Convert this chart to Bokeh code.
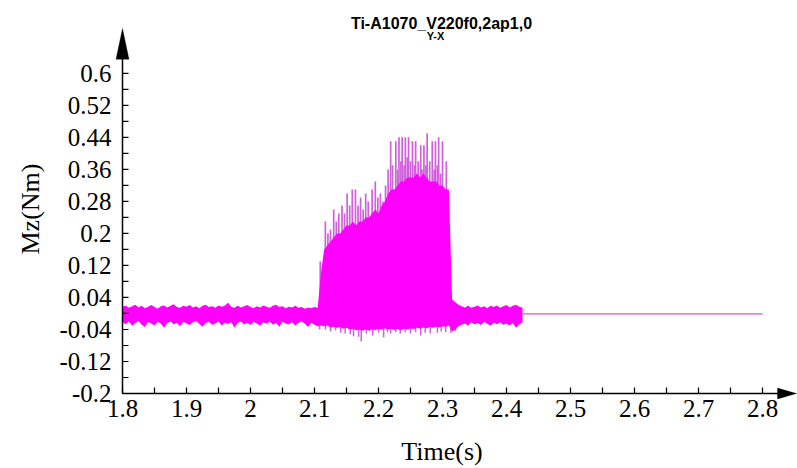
import math
from bokeh.plotting import figure
from bokeh.models import FixedTicker, Label, PolyAnnotation, Range1d, Title
from bokeh.embed import file_html
from bokeh.resources import INLINE

# ---- measured torque signal Mz (Nm) vs time (s) ----
# noise band sampled every 5 ms: upper and lower edge of the signal
t_band = [
    1.800, 1.805, 1.810, 1.815, 1.820, 1.825, 1.830, 1.835, 1.840, 1.845,
    1.850, 1.855, 1.860, 1.865, 1.870, 1.875, 1.880, 1.885, 1.890, 1.895,
    1.900, 1.905, 1.910, 1.915, 1.920, 1.925, 1.930, 1.935, 1.940, 1.945,
    1.950, 1.955, 1.960, 1.965, 1.970, 1.975, 1.980, 1.985, 1.990, 1.995,
    2.000, 2.005, 2.010, 2.015, 2.020, 2.025, 2.030, 2.035, 2.040, 2.045,
    2.050, 2.055, 2.060, 2.065, 2.070, 2.075, 2.080, 2.085, 2.090, 2.095,
    2.100, 2.105, 2.110, 2.115, 2.120, 2.125, 2.130, 2.135, 2.140, 2.145,
    2.150, 2.155, 2.160, 2.165, 2.170, 2.175, 2.180, 2.185, 2.190, 2.195,
    2.200, 2.205, 2.210, 2.215, 2.220, 2.225, 2.230, 2.235, 2.240, 2.245,
    2.250, 2.255, 2.260, 2.265, 2.270, 2.275, 2.280, 2.285, 2.290, 2.295,
    2.300, 2.305, 2.310, 2.315, 2.320, 2.325, 2.330, 2.335, 2.340, 2.345,
    2.350, 2.355, 2.360, 2.365, 2.370, 2.375, 2.380, 2.385, 2.390, 2.395,
    2.400, 2.405, 2.410, 2.415, 2.420, 2.425,
]
band_hi = [
    0.016, 0.020, 0.014, 0.018, 0.022, 0.015, 0.019, 0.013, 0.017, 0.021,
    0.016, 0.012, 0.018, 0.020, 0.015, 0.019, 0.023, 0.016, 0.014, 0.019,
    0.017, 0.021, 0.015, 0.018, 0.013, 0.019, 0.022, 0.016, 0.018, 0.014,
    0.020, 0.017, 0.019, 0.027, 0.016, 0.014, 0.019, 0.015, 0.018, 0.021,
    0.016, 0.013, 0.018, 0.015, 0.020, 0.017, 0.014, 0.019, 0.022, 0.016,
    0.018, 0.013, 0.017, 0.015, 0.019, 0.014, 0.016, 0.012, 0.015, 0.013,
    0.016, 0.014, 0.100, 0.160, 0.170, 0.180, 0.190, 0.200, 0.200, 0.210,
    0.220, 0.220, 0.230, 0.220, 0.230, 0.230, 0.240, 0.240, 0.250, 0.260,
    0.250, 0.270, 0.280, 0.300, 0.310, 0.310, 0.320, 0.330, 0.330, 0.340,
    0.340, 0.340, 0.350, 0.340, 0.350, 0.340, 0.330, 0.330, 0.330, 0.320,
    0.320, 0.310, 0.310, 0.035, 0.028, 0.022, 0.018, 0.015, 0.019, 0.014,
    0.017, 0.020, 0.015, 0.018, 0.013, 0.019, 0.016, 0.020, 0.014, 0.018,
    0.021, 0.015, 0.019, 0.022, 0.017, 0.014,
]
band_lo = [
    -0.022, -0.027, -0.020, -0.031, -0.024, -0.019, -0.028, -0.034, -0.022, -0.025,
    -0.030, -0.021, -0.026, -0.036, -0.023, -0.020, -0.027, -0.024, -0.032, -0.021,
    -0.025, -0.029, -0.022, -0.019, -0.026, -0.033, -0.024, -0.021, -0.028, -0.025,
    -0.020, -0.030, -0.023, -0.026, -0.022, -0.035, -0.024, -0.020, -0.027, -0.023,
    -0.029, -0.021, -0.025, -0.031, -0.022, -0.026, -0.020, -0.028, -0.024, -0.033,
    -0.021, -0.025, -0.027, -0.022, -0.030, -0.024, -0.020, -0.026, -0.034, -0.023,
    -0.028, -0.032, -0.030, -0.032, -0.030, -0.035, -0.033, -0.036, -0.034, -0.038,
    -0.036, -0.040, -0.038, -0.042, -0.040, -0.043, -0.040, -0.042, -0.039, -0.041,
    -0.038, -0.040, -0.037, -0.040, -0.038, -0.041, -0.039, -0.042, -0.038, -0.040,
    -0.037, -0.039, -0.036, -0.038, -0.035, -0.037, -0.034, -0.036, -0.033, -0.035,
    -0.032, -0.034, -0.030, -0.045, -0.040, -0.032, -0.028, -0.025, -0.030, -0.022,
    -0.027, -0.024, -0.029, -0.021, -0.026, -0.031, -0.023, -0.027, -0.022, -0.028,
    -0.025, -0.030, -0.024, -0.036, -0.027, -0.023,
]

# positive peaks during the cutting pass
spike_t = [
    2.109, 2.117, 2.121, 2.125, 2.130, 2.134, 2.138, 2.143, 2.147, 2.151,
    2.155, 2.159, 2.164, 2.168, 2.172, 2.176, 2.180, 2.184, 2.190, 2.195,
    2.199, 2.203, 2.207, 2.211, 2.215, 2.219, 2.222, 2.227, 2.230, 2.232,
    2.235, 2.237, 2.240, 2.242, 2.245, 2.247, 2.250, 2.253, 2.256, 2.258,
    2.262, 2.266, 2.268, 2.271, 2.274, 2.276, 2.280, 2.284, 2.287, 2.289,
    2.292, 2.294, 2.297, 2.300, 2.306,
]
spike_top = [
    0.13, 0.23, 0.20, 0.21, 0.26, 0.23, 0.25, 0.27, 0.25, 0.30,
    0.27, 0.31, 0.31, 0.27, 0.29, 0.26, 0.30, 0.28, 0.31, 0.33,
    0.29, 0.30, 0.28, 0.32, 0.36, 0.43, 0.37, 0.43, 0.36, 0.44,
    0.38, 0.44, 0.37, 0.44, 0.39, 0.44, 0.38, 0.43, 0.37, 0.43,
    0.38, 0.42, 0.36, 0.42, 0.37, 0.45, 0.38, 0.43, 0.36, 0.43,
    0.37, 0.44, 0.35, 0.43, 0.38,
]

# negative peaks during the cutting pass
dip_t = [
    2.108, 2.117, 2.125, 2.133, 2.141, 2.148, 2.156, 2.161, 2.169, 2.173,
    2.181, 2.186, 2.191, 2.200, 2.208, 2.214, 2.219, 2.227, 2.234, 2.242,
    2.250, 2.258, 2.266, 2.273, 2.281, 2.292, 2.298, 2.305, 2.313, 2.320,
]
dip_bottom = [
    -0.040, -0.040, -0.045, -0.042, -0.048, -0.050, -0.052, -0.057, -0.058, -0.070,
    -0.050, -0.045, -0.055, -0.048, -0.060, -0.047, -0.050, -0.046, -0.050, -0.047,
    -0.050, -0.046, -0.055, -0.048, -0.050, -0.048, -0.045, -0.046, -0.048, -0.044,
]

# idle signal after the recording stops
flat_t = [2.425, 2.800]
flat_val = [-0.001, -0.001]

# axes
x_ticks = [1.8, 1.9, 2.0, 2.1, 2.2, 2.3, 2.4, 2.5, 2.6, 2.7, 2.8]
x_labels = ["1.8", "1.9", "2", "2.1", "2.2", "2.3", "2.4", "2.5", "2.6", "2.7", "2.8"]
x_minor = [1.85, 1.95, 2.05, 2.15, 2.25, 2.35, 2.45, 2.55, 2.65, 2.75]
y_ticks = [-0.2, -0.12, -0.04, 0.04, 0.12, 0.2, 0.28, 0.36, 0.44, 0.52, 0.6]
y_labels = ["-0.2", "-0.12", "-0.04", "0.04", "0.12", "0.2", "0.28", "0.36", "0.44", "0.52", "0.6"]
y_minor = [-0.16, -0.08, 0.0, 0.08, 0.16, 0.24, 0.32, 0.40, 0.48, 0.56]

# ---- layout: pixel <-> data helpers ----
W, H = 797, 468
AXIS_X, AXIS_Y = 122, 394        # pixel position of the two axis lines
FRAME_L, FRAME_B = 86, 400       # plot frame, larger than the axes
LABEL_RIGHT = 111                # right edge of the y tick labels
PX_PER_X = 640.0                 # pixels per second
PX_PER_Y = 321.0 / 0.8           # pixels per Nm
X0, Y0 = 1.8, -0.2
TICK = 6                         # inward tick length, px


def xv(px):
    return X0 + (px - AXIS_X) / PX_PER_X


def yv(py):
    return Y0 + (AXIS_Y - py) / PX_PER_Y


p = figure(
    width=W, height=H, title=None,
    x_range=Range1d(xv(FRAME_L), xv(W)), y_range=Range1d(yv(FRAME_B), yv(0)),
    output_backend="svg", toolbar_location=None,
    min_border_left=FRAME_L, min_border_right=0,
    min_border_top=0, min_border_bottom=H - FRAME_B,
)
p.outline_line_color = None
p.grid.visible = False
p.background_fill_color = "white"
p.border_fill_color = "white"

MAGENTA = "#ff00ff"
SPIKE = "#d060dc"

# peaks first, so that the solid band covers their roots
p.segment(x0=spike_t, y0=[0.0] * len(spike_t), x1=spike_t, y1=spike_top,
          line_color=SPIKE, line_width=1.7)
p.segment(x0=dip_t, y0=[0.0] * len(dip_t), x1=dip_t, y1=dip_bottom,
          line_color=SPIKE, line_width=1.5)
p.varea(x=t_band, y1=band_lo, y2=band_hi, fill_color=MAGENTA)
p.line(flat_t, flat_val, line_color="#e04ee0", line_width=1.2)

# axis lines and inward ticks, drawn at x = 1.8 and y = -0.2
all_xt = sorted(x_ticks + x_minor)
all_yt = sorted(y_ticks + y_minor)
p.segment(x0=[X0, X0], y0=[Y0, Y0], x1=[X0, xv(790)], y1=[yv(40), Y0],
          line_color="black", line_width=1.5)
p.segment(x0=all_xt, y0=[Y0] * len(all_xt), x1=all_xt,
          y1=[Y0 + TICK / PX_PER_Y] * len(all_xt), line_color="black", line_width=1.2)
p.segment(x0=[X0] * len(all_yt), y0=all_yt, x1=[X0 + TICK / PX_PER_X] * len(all_yt),
          y1=all_yt, line_color="black", line_width=1.2)

# axis arrows
p.add_layout(PolyAnnotation(
    xs=[X0, X0 - 6.5 / PX_PER_X, X0 + 6.5 / PX_PER_X],
    ys=[yv(28), yv(59), yv(59)],
    fill_color="black", fill_alpha=1.0, line_color="black", line_width=1,
))
p.add_layout(PolyAnnotation(
    xs=[xv(796), xv(777), xv(777)],
    ys=[Y0, Y0 + 5.5 / PX_PER_Y, Y0 - 5.5 / PX_PER_Y],
    fill_color="black", fill_alpha=1.0, line_color="black", line_width=1,
))

# tick labels come from the library axes along the frame edges
SERIF = "Liberation Serif"
xa, ya = p.xaxis[0], p.yaxis[0]
for ax, ticks, labels in ((xa, x_ticks, x_labels), (ya, y_ticks, y_labels)):
    ax.ticker = FixedTicker(ticks=ticks, minor_ticks=[])
    ax.major_label_overrides = {t: s for t, s in zip(ticks, labels)}
    ax.axis_line_color = None
    ax.major_tick_line_color = None
    ax.minor_tick_line_color = None
    ax.major_tick_in = 0
    ax.major_tick_out = 0
    ax.minor_tick_in = 0
    ax.minor_tick_out = 0
    ax.major_label_text_font = SERIF
    ax.major_label_text_font_style = "normal"
    ax.major_label_text_font_size = "25px"
    ax.major_label_text_color = "black"
xa.major_label_standoff = 0
ya.major_label_standoff = FRAME_L - LABEL_RIGHT

# x axis title, centred under the frame
xa.axis_label = "Time(s)"
xa.axis_label_standoff = 17
xa.axis_label_text_font = SERIF
xa.axis_label_text_font_style = "normal"
xa.axis_label_text_font_size = "26px"
xa.axis_label_text_color = "black"

# chart titles
p.add_layout(Label(
    x=xv(441), y=yv(23), text="Ti-A1070_V220f0,2ap1,0",
    text_align="center", text_baseline="alphabetic",
    text_font="Liberation Sans", text_font_style="bold",
    text_font_size="16px", text_color="black",
))
p.add_layout(Label(
    x=xv(435), y=yv(36), text="Y-X",
    text_align="center", text_baseline="alphabetic",
    text_font="Liberation Sans", text_font_style="bold",
    text_font_size="11px", text_color="black",
))

# y axis title
p.add_layout(Title(
    text="Mz(Nm)", align="left", offset=FRAME_B - 255, standoff=24,
    vertical_align="bottom", text_font=SERIF, text_font_size="26px",
    text_font_style="normal", text_color="black",
), "left")

open("out.html", "w").write(file_html(p, INLINE))
